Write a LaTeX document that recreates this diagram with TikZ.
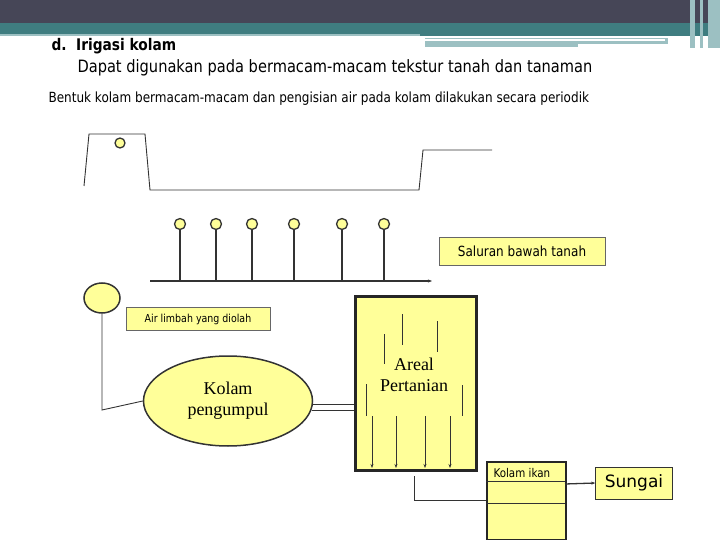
\documentclass[tikz,border=0pt]{standalone}
\usepackage{fontspec}
\setmainfont{Liberation Serif}
\newfontfamily\sansf{DejaVu Sans}
\newfontfamily\sansc[FakeStretch=0.86]{DejaVu Sans}
\usetikzlibrary{arrows.meta,shapes.geometric}
\definecolor{yel}{HTML}{FFFF99}
\definecolor{dark}{HTML}{464657}
\definecolor{teal1}{HTML}{3F7D80}
\definecolor{teal2}{HTML}{9CC0C2}
\tikzset{
  ln/.style={draw=black!80, line width=0.9pt},
  pin/.style={circle, draw=black!80, line width=1.3pt, fill=yel, minimum size=11pt, inner sep=0pt},
  lbl/.style={draw=black!60, fill=yel, inner sep=0pt, font=\sansc},
  arr/.style={ln, -{Stealth[length=4pt,width=3pt]}},
}
\begin{document}
\begin{tikzpicture}[x=1pt,y=-1pt]
\useasboundingbox (0,0) rectangle (720,540);
% header
\fill[dark] (0,0) rectangle (720,23);
\fill[teal1] (0,23) rectangle (720,36);
\fill[teal2] (0,34) rectangle (420,36);
\fill[teal2] (425,38) rectangle (668,44);
\fill[teal2] (425,44) rectangle (578,47);
\fill[white] (425,39) rectangle (665,41);
\fill[teal2] (690,0) rectangle (695,48);
\fill[teal2] (700,0) rectangle (703,48);
\fill[teal2] (708,0) rectangle (720,48);
\node[anchor=base west, font=\sansc\bfseries\fontsize{16}{18}\selectfont] (t1) at (48,51) {d.\ \ Irigasi kolam};
\node[anchor=base west, font=\sansc\fontsize{17}{19}\selectfont] (t2) at (74,73) {Dapat digunakan pada bermacam-macam tekstur tanah dan tanaman};
\node[anchor=base west, font=\sansc\fontsize{14}{16}\selectfont] (t3) at (45,103) {Bentuk kolam bermacam-macam dan pengisian air pada kolam dilakukan secara periodik};
% pond profile
\coordinate (p1) at (84,186); \coordinate (p2) at (89,134); \coordinate (p3) at (145,134);
\coordinate (p4) at (150,190); \coordinate (p5) at (419,190); \coordinate (p6) at (423,150); \coordinate (p7) at (492,150);
\draw[ln] (p1) -- (p2) -- (p3) -- (p4) -- (p5) -- (p6) -- (p7);
\node[pin, minimum size=10pt] (ps) at (120,143) {};
% underground channel
\coordinate (ls) at (150,281); \coordinate (le) at (432,281);
\draw[arr, line width=1.6pt] (ls) -- (le);
\foreach \x [count=\i] in {180,216,252,294,342,384} {
  \node[pin] (w\i) at (\x,224) {};
  \coordinate (b\i) at (\x,281);
  \draw[ln, line width=1.3pt] (w\i) -- (b\i);
}
\node[lbl, minimum width=166pt, minimum height=28pt, font=\sansc\fontsize{14}{16}\selectfont] (sal) at (522,251) {Saluran bawah tanah};
% waste water
\node[ellipse, draw=black!80, line width=1.5pt, fill=yel, minimum width=36pt, minimum height=30pt, inner sep=0pt] (c) at (102,298) {};
\node[lbl, minimum width=144pt, minimum height=23pt, font=\sansc\fontsize{11}{13}\selectfont] (air) at (198,319) {Air limbah yang diolah};
\node[ellipse, draw=black!80, line width=1.5pt, fill=yel, minimum width=169pt, minimum height=90pt, inner sep=0pt, align=center, font=\fontsize{18}{21}\selectfont] (kp) at (228,401) {Kolam\\pengumpul};
\coordinate (k1) at (102,410);
\draw[ln] (c.south) -- (k1) -- (kp.west);
% areal
\node[draw=black!85, line width=2.5pt, fill=yel, minimum width=121pt, minimum height=174pt, anchor=north west, inner sep=0pt] (ar) at (354,295) {};
\node[align=center, font=\fontsize{18}{21}\selectfont] (art) at (414,375) {Areal\\Pertanian};
\coordinate (d1) at (312,404); \coordinate (d2) at (354,404);
\coordinate (d3) at (312,410); \coordinate (d4) at (354,410);
\draw[ln] (d1) -- (d2); \draw[ln] (d3) -- (d4);
\foreach \x/\a/\b in {384/334/364, 402/314/345, 437/321/352, 366/384/416, 462/385/416} {
  \draw[ln, line width=0.6pt] (\x,\a) -- (\x,\b);
}
\foreach \x in {372,396,425,450} {
  \draw[arr] (\x,416) -- (\x,468);
}
% fish pond
\node[draw=black!85, line width=2pt, fill=yel, minimum width=79pt, minimum height=78pt, anchor=north west, inner sep=0pt] (ki) at (486,461) {};
\draw[ln, line width=0.6pt] (486,481) -- (565,481);
\draw[ln, line width=0.6pt] (486,503) -- (565,503);
\node[font=\sansc\fontsize{12}{14}\selectfont, anchor=west] (kit) at (490,473) {Kolam ikan};
\coordinate (f1) at (414,476); \coordinate (f2) at (414,500); \coordinate (f3) at (486,500);
\draw[ln] (f1) -- (f2) -- (f3);
\node[lbl, draw=black!80, minimum width=77pt, minimum height=32pt, font=\sansf\fontsize{17}{19}\selectfont] (sg) at (634,483) {Sungai};
\coordinate (g1) at (565,484);
\draw[arr, line width=1.3pt] (g1) -- (sg.west);
\end{tikzpicture}
\end{document}
